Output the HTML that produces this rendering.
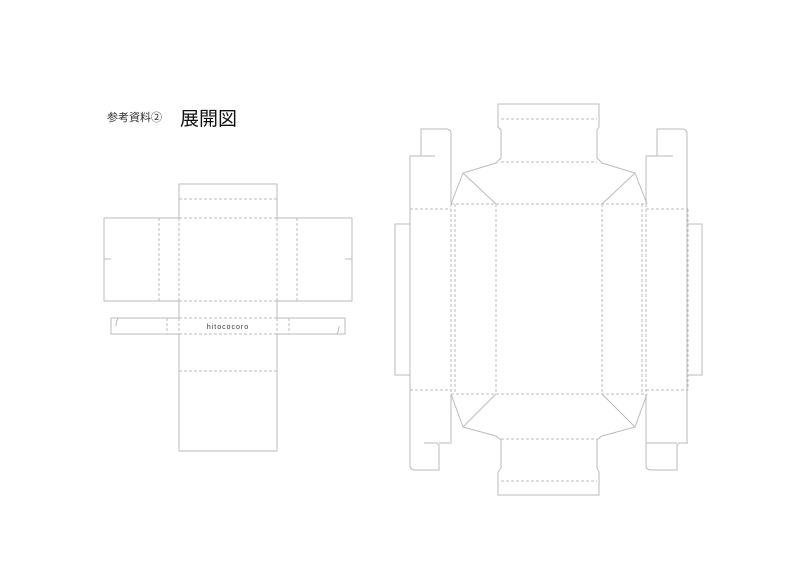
<!DOCTYPE html>
<html><head><meta charset="utf-8"><style>
html,body{margin:0;padding:0;background:#fff;width:800px;height:565px;overflow:hidden}
svg{display:block}
</style></head><body>
<svg width="800" height="565" viewBox="0 0 800 565" xmlns="http://www.w3.org/2000/svg">
<text x="107" y="121" font-family="Liberation Sans, Noto Sans CJK JP, sans-serif" font-size="11" fill="#333">参考資料②</text>
<text x="180" y="125" font-family="Liberation Sans, Noto Sans CJK JP, sans-serif" font-size="19" fill="#111">展開図</text>
<g fill="none" stroke="#bbb" stroke-width="1">
<path d="M179 218 V184 H277 V218 H352 V301 H277 V318 H345 V334 H277 V451 H179 V334 H111 V318 H179 V301 H104 V218 Z"/>
<path d="M104 259 H111 M352 259 H345"/>
<path d="M118 318 Q116 322 116 326 M337 334 Q339 330 339 326 M337 334 H333"/>
</g>
<g fill="none" stroke="#bbb" stroke-width="1" stroke-dasharray="3,2">
<path d="M179 199 H277 M179 218 H277 M179 301 H277 M179 318 H277 M179 334 H277 M179 371 H277"/>
<path d="M179 218 V301 M277 218 V301 M159 218 V301 M297 218 V301 M167 318 V334 M289 318 V334 M179 318 V334 M277 318 V334"/>
</g>
<text x="228" y="329" text-anchor="middle" font-family="Liberation Sans, sans-serif" font-size="7" letter-spacing="1" fill="#333">hitococoro</text>
<g fill="none" stroke="#bbb" stroke-width="1">
<path d="M647 204 L635 173 L602 163 L597 158 V130 L599 127 V104 H498 V127 L501 130 V158 L496 163 L463 173 L451 204"/>
<path d="M463 173 L496 204 M635 173 L602 204"/>
<path d="M647 394 L635 427 L602 436 L597 440 V468 L599 472 V495 H498 V472 L501 468 V440 L496 436 L463 427 L451 394"/>
<path d="M463 427 L496 394 M635 427 L602 394"/>
<path d="M451 204 V134 Q451 129 446 129 H421 V156 H435 M421 156 H410 V465 Q410 470 415 470 H439 V445 L437 443 H424 M451 394 V443 H439"/>
<path d="M410 224 H395 V375 H410"/>
<path d="M646 204 V156 H673 M657 156 V129 H682 Q687 129 687 134 V443 M687 224 H702 V375 H687"/>
<path d="M646 394 V465 Q646 470 651 470 H677 V445 L679 443 H688 M677 443 H646"/>
</g>
<g fill="none" stroke="#bbb" stroke-width="1" stroke-dasharray="3,2">
<path d="M501 119 H597 M501 162 H597 M451 204 H646 M410 209 H451 M646 209 H688 M451 394 H646 M410 390 H451 M646 390 H688 M501 439 H597 M501 481 H597"/>
<path d="M496 204 V394 M602 204 V394 M451 204 V394 M455 204 V394 M642 204 V394 M646 204 V394 M410 209 V390 M688 209 V390"/>
</g>
</svg>
</body></html>
